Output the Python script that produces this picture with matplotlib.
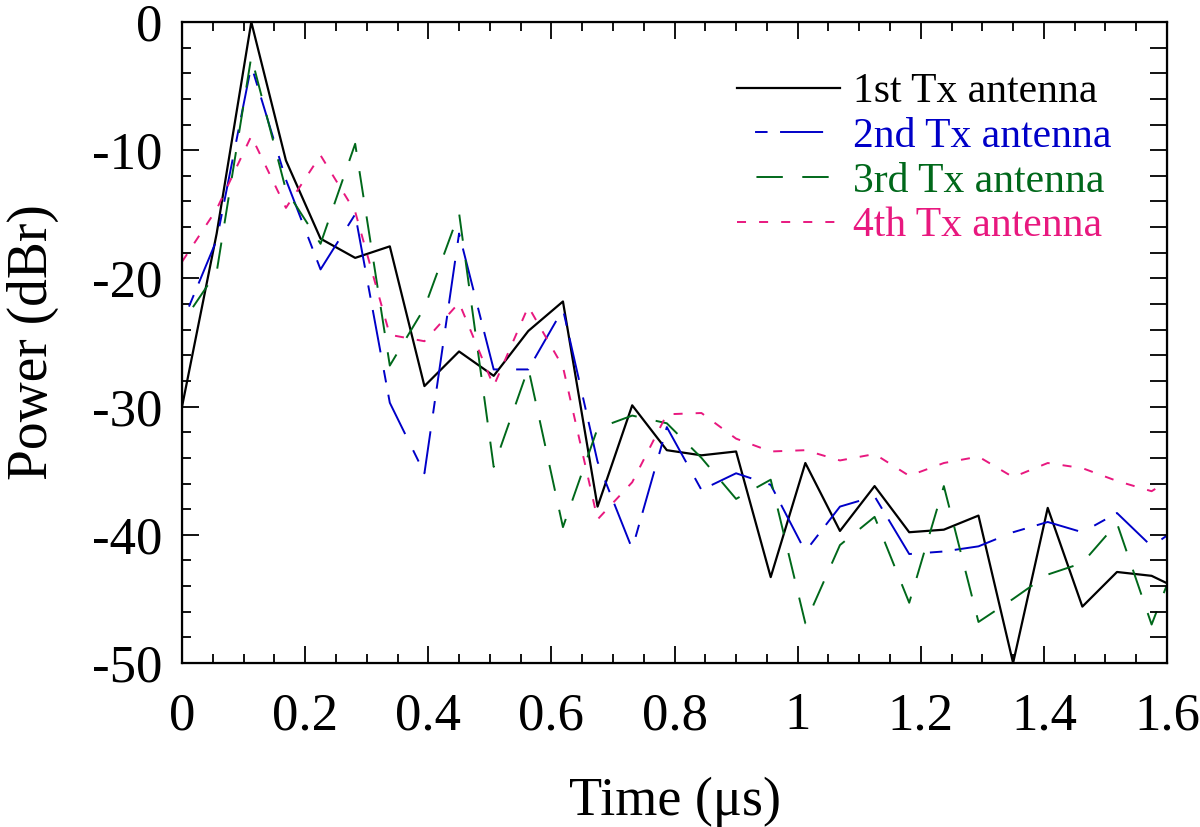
import numpy as np
import matplotlib
matplotlib.use("Agg")
import matplotlib.pyplot as plt
from matplotlib.ticker import MultipleLocator, FuncFormatter

# sample times (us) and relative power (dBr) for each Tx antenna
time_us = [0.0, 0.05625, 0.1125, 0.16875, 0.225, 0.28125, 0.3375, 0.39375, 0.45, 0.50625,
           0.5625, 0.61875, 0.675, 0.73125, 0.7875, 0.84375, 0.9, 0.95625, 1.0125, 1.06875,
           1.125, 1.18125, 1.2375, 1.29375, 1.35, 1.40625, 1.4625, 1.51875, 1.575, 1.63125]

tx1 = [-30.0, -16.5, 0.0, -10.8, -16.9, -18.4, -17.5, -28.4, -25.7, -27.6,
       -24.1, -21.8, -37.8, -29.9, -33.4, -33.8, -33.5, -43.3, -34.4, -39.7,
       -36.2, -39.8, -39.6, -38.5, -50.0, -37.9, -45.6, -42.9, -43.2, -44.5]
tx2 = [-23.5, -17.0, -3.4, -12.3, -19.3, -15.0, -29.7, -35.2, -16.5, -27.1,
       -27.1, -22.4, -34.3, -41.1, -31.6, -36.5, -35.2, -36.1, -41.3, -37.8,
       -37.0, -41.5, -41.3, -40.9, -39.8, -39.0, -39.8, -38.3, -40.9, -39.0]
tx3 = [-23.5, -19.5, -2.7, -13.1, -17.3, -9.5, -26.8, -22.3, -14.9, -34.7,
       -27.0, -39.4, -31.7, -30.7, -31.3, -34.0, -37.2, -35.7, -46.9, -40.8,
       -38.6, -45.3, -36.2, -46.8, -45.0, -43.1, -42.2, -39.1, -47.0, -40.0]
tx4 = [-18.7, -14.6, -8.9, -14.5, -10.4, -14.8, -24.4, -24.9, -21.9, -28.4,
       -22.2, -26.9, -38.8, -35.9, -30.6, -30.5, -32.5, -33.5, -33.4, -34.2,
       -33.7, -35.4, -34.4, -33.9, -35.5, -34.4, -34.8, -35.8, -36.6, -34.9]

labels = ["1st Tx antenna", "2nd Tx antenna", "3rd Tx antenna", "4th Tx antenna"]

plt.rcParams['font.family'] = ['Liberation Serif', 'DejaVu Serif']
plt.rcParams['axes.unicode_minus'] = False
plt.rcParams['lines.scale_dashes'] = False

fig = plt.figure(figsize=(12, 8.27), dpi=100)
ax = fig.add_axes([0.1517, 0.1983, 0.8208, 0.7751])

ax.plot(time_us, tx1, color='black', lw=1.6, label=labels[0])
ax.plot(time_us, tx2, color='#0000C8', lw=1.4, ls=(31, (31, 13, 9, 9)), label=labels[1])
ax.plot(time_us, tx3, color='#00681A', lw=1.4, ls=(19, (19, 14)), label=labels[2])
ax.plot(time_us, tx4, color='#E8187F', lw=1.4, ls=(0, (6.5, 9.4)), label=labels[3])

ax.set_xlim(0, 1.6)
ax.set_ylim(-50, 0)
ax.xaxis.set_major_locator(MultipleLocator(0.2))
ax.xaxis.set_minor_locator(MultipleLocator(0.05))
ax.yaxis.set_major_locator(MultipleLocator(10))
ax.yaxis.set_minor_locator(MultipleLocator(2))
fmt = FuncFormatter(lambda v, p: '%g' % round(v, 6))
ax.xaxis.set_major_formatter(fmt)
ax.yaxis.set_major_formatter(fmt)

ax.tick_params(which='major', direction='in', length=12.5, width=1.3, top=True,
               right=False, labelsize=38, pad=14)
ax.tick_params(which='minor', direction='in', length=6.5, width=1.3, top=True, right=False)
ax.tick_params(axis='x', which='major', pad=21)
for s in ax.spines.values():
    s.set_linewidth(1.6)

# right side: every tick drawn long
ax2 = ax.twinx()
ax2.set_ylim(-50, 0)
ax2.yaxis.set_major_locator(MultipleLocator(2))
ax2.tick_params(which='major', direction='in', length=12.5, width=1.3, labelright=False)

ax.set_xlabel("Time (μs)", fontsize=39, labelpad=26)
ax.set_ylabel("Power (dBr)", fontsize=40, labelpad=24)

leg = ax.legend(loc='upper left', bbox_to_anchor=(0.5635, 0.921), frameon=False,
                fontsize=30, handlelength=2.47, handletextpad=0.31,
                labelspacing=0.15, borderpad=0, borderaxespad=0,
                labelcolor='linecolor')

fig.savefig("out.png", dpi=100)
